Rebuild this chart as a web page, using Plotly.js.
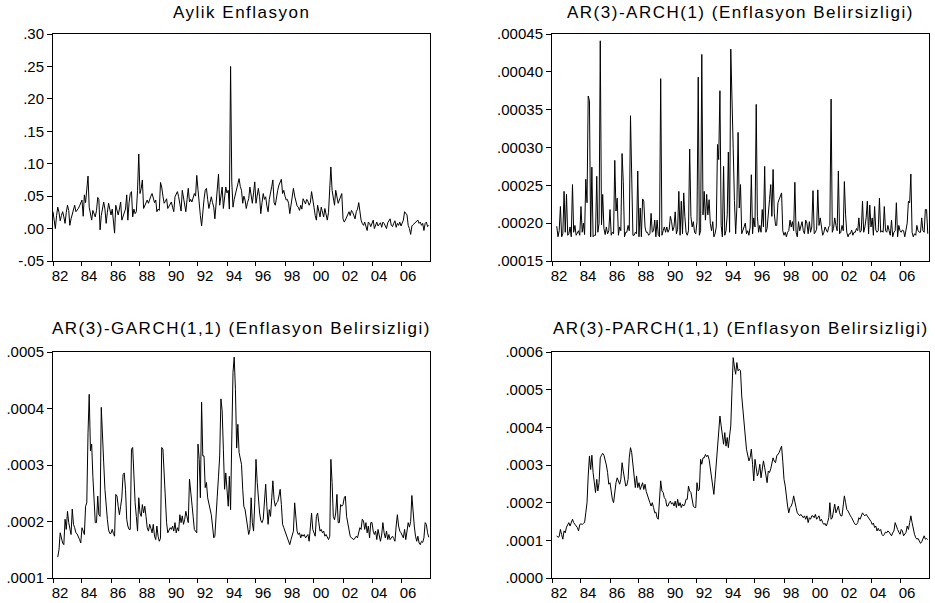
<!DOCTYPE html>
<html>
<head>
<meta charset="utf-8">
<script src="https://cdn.plot.ly/plotly-3.0.1.min.js"></script>
<style>
html,body{margin:0;padding:0;background:#fff;}
#chart{width:935px;height:603px;}
.annotation-text{letter-spacing:1.5px;}
</style>
</head>
<body>
<div id="chart"></div>
<script>
// ---------- tick labels ----------
const yearTickDates = ['1982-01-01','1984-01-01','1986-01-01','1988-01-01','1990-01-01','1992-01-01','1994-01-01',
  '1996-01-01','1998-01-01','2000-01-01','2002-01-01','2004-01-01','2006-01-01'];
const yearTickLabels = ['82','84','86','88','90','92','94','96','98','00','02','04','06'];

const inflTickVals = [-0.05,0,0.05,0.10,0.15,0.20,0.25,0.30];
const inflTickText = ['-.05','.00','.05','.10','.15','.20','.25','.30'];
const archTickVals = [0.00015,0.00020,0.00025,0.00030,0.00035,0.00040,0.00045];
const archTickText = ['.00015','.00020','.00025','.00030','.00035','.00040','.00045'];
const garchTickVals = [0.0001,0.0002,0.0003,0.0004,0.0005];
const garchTickText = ['.0001','.0002','.0003','.0004','.0005'];
const parchTickVals = [0,0.0001,0.0002,0.0003,0.0004,0.0005,0.0006];
const parchTickText = ['.0000','.0001','.0002','.0003','.0004','.0005','.0006'];

const titles = ['Aylik Enflasyon','AR(3)-ARCH(1) (Enflasyon Belirsizligi)',
  'AR(3)-GARCH(1,1) (Enflasyon Belirsizligi)','AR(3)-PARCH(1,1) (Enflasyon Belirsizligi)'];

// ---------- data ----------
// Monthly inflation, 1982M01 - 2007M12
const inflStart = [1982, 1];
const inflation = [
 .026,.015,.000,.020,.033,.025,.012,.020,.026,.018,.008,.025,
 .036,.028,.005,.015,.023,.030,.036,.026,.028,.031,.035,.040,
 .044,.019,.052,.040,.059,.081,.033,.024,.013,.028,.022,.018,
 .028,.048,.045,-.002,.020,.033,.041,.030,.008,.025,.039,.030,
 .021,.030,.013,-.007,.036,.025,.021,.030,.041,.013,.020,.023,
 .030,.052,.013,.040,.054,.057,.018,.030,.023,.026,.059,.115,
 .054,.062,.075,.031,.035,.041,.044,.039,.046,.050,.054,.046,
 .040,.044,.026,.030,.028,.071,.064,.050,.039,.042,.046,.031,
 .035,.039,.041,.033,.026,.049,.052,.057,.049,.040,.027,.059,
 .048,.041,.026,.045,.062,.041,.045,.041,.046,.054,.050,.082,
 .060,.033,.020,.004,.033,.045,.059,.062,.045,.031,.040,.049,
 .040,.033,.015,.036,.060,.084,.036,.050,.064,.031,.045,.064,
 .055,.059,.030,.250,.072,.033,.045,.054,.062,.072,.077,.065,
 .059,.039,.050,.044,.031,.040,.046,.064,.050,.039,.055,.072,
 .039,.050,.062,.049,.023,.040,.054,.045,.049,.035,.026,.045,
 .059,.065,.075,.040,.036,.050,.059,.067,.072,.076,.054,.059,
 .050,.044,.045,.039,.023,.035,.046,.062,.050,.041,.035,.033,
 .028,.036,.030,.046,.041,.038,.045,.042,.036,.040,.057,.041,
 .033,.020,.013,.036,.025,.018,.033,.025,.018,.031,.020,.013,
 .025,.070,.095,.059,.045,.036,.059,.045,.039,.044,.050,.054,
 .015,.010,.013,.018,.022,.026,.020,.028,.025,.021,.015,.026,
 .030,.040,.023,.013,.008,.005,.010,.005,-.003,.010,.008,.003,
 .008,.013,.000,.005,.010,.004,.007,.009,.002,.010,.008,.003,
 .000,.009,.012,.015,.005,.003,.008,.012,.002,.008,.005,.010,
 .004,.008,.013,.026,.024,.021,.005,.000,-.009,.004,.006,.008,
 .010,.012,.013,.008,.010,.005,.008,-.003,.008,.010,.003,.005
];

// Conditional variances, 1982M05 - 2007M12, in units of 1e-4
const VAR_UNIT = 1e-4;
const varStart = [1982, 5];
const archE4 = [
 1.96,1.82,1.90,2.22,1.82,1.86,2.42,1.88,
 2.38,1.84,1.86,1.95,1.82,2.51,1.88,1.97,1.84,1.88,1.90,1.84,
 2.22,1.88,2.00,1.85,2.58,2.27,3.68,3.62,1.82,2.74,1.82,1.84,
 1.84,2.62,1.88,2.00,4.41,1.98,2.38,1.93,1.85,1.95,1.86,1.90,
 2.18,1.84,1.88,1.86,2.83,2.16,2.33,1.84,1.95,1.90,2.92,2.55,
 1.82,1.88,1.88,1.97,1.90,3.42,2.44,1.84,1.84,1.88,1.86,2.69,
 1.82,2.20,1.82,2.32,2.29,1.95,1.88,1.88,1.84,1.86,2.13,1.88,
 1.90,2.04,1.82,2.04,1.85,1.82,3.91,1.84,1.90,1.95,1.88,1.95,
 1.88,1.92,2.09,2.02,1.90,1.95,2.15,1.86,1.92,2.42,1.84,2.29,
 1.86,2.40,2.09,1.88,1.84,1.90,2.98,2.09,1.95,2.02,1.88,1.86,
 2.02,3.93,1.84,1.90,4.23,2.11,2.42,2.04,2.38,2.11,2.31,2.00,
 1.90,2.02,1.82,1.86,1.95,3.04,2.84,3.75,1.97,1.82,2.75,1.84,
 1.90,2.11,2.94,1.88,4.30,3.35,2.99,2.30,1.86,2.20,3.20,2.20,
 2.51,1.86,1.92,1.95,2.00,1.86,1.90,1.84,1.95,2.64,1.86,2.07,
 1.95,3.57,2.09,1.88,1.97,1.88,2.18,1.95,2.75,1.88,1.93,2.18,
 2.31,2.51,2.09,2.71,2.13,1.97,1.97,2.27,2.31,2.35,2.40,1.90,
 1.84,1.88,1.82,1.88,1.90,2.04,1.95,2.02,1.90,2.54,1.88,1.82,
 2.02,1.90,1.95,2.02,1.90,1.86,2.04,2.00,1.86,2.02,1.88,1.95,
 2.43,1.86,1.88,1.92,2.44,1.97,2.07,1.95,1.84,1.88,1.95,1.91,
 1.88,1.95,1.97,3.64,1.88,1.93,2.07,1.97,1.90,2.69,1.86,1.88,
 1.97,1.90,2.55,2.11,1.88,1.82,1.86,1.86,1.91,1.84,1.88,1.88,
 1.93,1.90,2.07,1.88,1.90,2.29,1.88,1.95,2.07,2.29,1.86,2.24,
 1.95,2.07,1.84,2.22,1.91,1.88,1.90,2.33,1.88,1.90,1.88,2.22,
 1.90,1.88,1.97,1.90,1.84,2.04,1.82,1.88,1.90,2.27,1.82,1.97,
 1.90,1.88,1.91,1.90,1.82,1.91,2.00,2.29,2.27,2.65,1.88,1.82,
 1.86,1.84,1.97,1.90,1.88,1.88,2.07,1.90,1.88,2.18,2.18,1.86
];
const garchE4 = [
 1.37,1.50,1.80,1.68,1.62,1.59,2.04,1.86,
 2.18,1.98,1.87,1.77,2.22,1.95,1.89,1.80,1.78,1.74,1.68,1.62,
 1.89,1.83,1.77,2.27,2.33,3.57,4.25,3.25,3.37,2.80,2.27,1.98,
 1.98,2.45,2.12,2.09,4.02,3.34,3.04,2.57,2.24,2.04,1.85,1.79,
 1.79,1.86,1.79,1.74,2.48,2.45,2.27,2.12,2.27,2.42,2.83,2.86,
 2.57,2.04,1.92,1.86,1.86,3.28,3.31,2.75,2.33,2.09,1.83,2.42,
 2.15,2.09,2.30,2.15,2.27,2.09,1.89,1.83,1.95,1.88,1.80,1.95,
 1.74,1.68,1.92,1.74,1.65,1.70,3.31,3.28,2.75,2.27,1.98,1.80,
 1.86,1.89,1.86,1.92,1.83,1.98,1.80,1.89,1.83,2.12,1.98,2.10,
 1.95,2.04,2.18,2.09,1.98,2.75,2.57,2.33,2.09,1.86,1.83,1.80,
 3.37,3.10,2.42,4.11,3.16,3.16,2.60,2.69,2.42,2.30,2.20,2.12,
 1.92,1.71,1.74,2.21,2.45,2.80,3.16,4.17,3.96,3.28,2.57,2.86,
 2.63,2.27,2.80,2.21,3.46,4.64,4.91,4.34,3.30,3.72,3.22,3.10,
 3.01,2.57,2.27,2.21,2.09,1.92,1.77,1.86,2.42,1.98,1.83,2.33,
 3.10,2.69,2.33,2.15,2.02,1.98,2.04,2.33,2.66,2.27,1.95,2.21,
 2.09,2.42,2.72,2.39,2.27,2.33,2.35,2.45,2.57,2.30,1.95,1.89,
 1.83,1.80,1.74,1.65,1.59,1.68,1.77,1.83,2.33,2.04,1.83,1.77,
 1.80,1.71,1.77,1.74,1.77,1.71,1.74,1.77,1.65,1.98,2.15,1.86,
 1.80,1.74,2.09,2.15,1.98,1.83,1.86,1.80,1.83,1.74,1.77,1.71,
 1.68,1.74,3.10,2.69,2.09,2.03,2.15,2.48,1.98,1.98,2.30,2.27,
 2.30,2.42,2.45,2.09,1.95,1.81,1.74,1.71,1.70,1.68,1.71,1.74,
 1.71,1.80,1.89,1.86,2.04,2.01,1.86,1.98,1.80,1.92,1.71,1.98,
 1.98,1.83,1.77,1.83,1.68,1.86,1.74,1.65,1.76,1.98,1.80,1.71,
 1.83,1.68,1.77,1.68,1.71,1.74,1.70,1.65,1.92,2.12,1.92,1.83,
 1.80,1.74,1.71,1.86,1.68,1.83,1.98,1.90,2.00,2.46,2.15,1.92,
 1.74,1.65,1.74,1.62,1.59,1.65,1.63,1.71,1.98,1.95,1.80,1.72
];
const parchE4 = [
 1.12,1.08,1.10,1.29,1.15,1.03,1.25,1.20,
 1.35,1.42,1.47,1.38,1.50,1.56,1.47,1.42,1.38,1.34,1.25,1.42,
 1.44,1.42,1.45,1.47,1.73,2.00,2.71,3.24,2.88,3.26,2.80,2.53,
 2.27,2.62,2.31,2.53,3.19,3.26,3.31,3.26,3.15,3.00,2.80,2.49,
 2.53,2.22,2.09,2.00,2.35,2.53,2.66,2.58,2.49,2.62,3.06,2.84,
 2.57,2.44,2.46,2.62,3.19,3.46,3.33,2.97,2.66,2.40,2.71,2.40,
 2.53,2.35,2.44,2.53,2.35,2.49,2.30,2.18,2.09,2.00,1.91,2.00,
 1.87,1.73,1.75,1.60,1.56,2.04,2.58,2.31,2.27,2.13,2.09,1.91,
 1.91,2.00,2.04,1.96,2.00,1.91,2.04,1.87,2.09,1.91,2.00,1.87,
 1.96,1.91,1.96,2.09,2.09,2.44,2.31,2.27,2.09,1.91,1.87,1.87,
 2.53,2.31,2.35,3.15,3.02,3.19,3.19,3.28,3.22,3.26,3.15,2.93,
 2.70,2.49,2.22,2.62,3.06,3.59,4.04,4.30,4.04,3.81,3.55,3.86,
 3.50,3.73,3.46,3.77,4.04,5.01,5.85,5.60,5.41,5.72,5.50,5.54,
 5.50,4.83,4.43,4.21,3.77,3.42,3.20,3.11,3.20,3.42,3.02,2.58,
 3.15,2.88,2.71,2.80,3.02,2.66,2.88,3.11,2.93,2.66,2.53,2.84,
 2.80,2.90,3.02,3.19,3.10,3.06,3.24,3.28,3.33,3.42,3.50,3.10,
 2.62,2.44,2.13,1.91,1.73,1.87,1.91,2.00,2.18,1.96,1.87,1.73,
 1.70,1.65,1.69,1.65,1.60,1.65,1.56,1.65,1.47,1.60,1.56,1.65,
 1.65,1.60,1.69,1.56,1.60,1.65,1.51,1.56,1.47,1.42,1.45,1.38,
 1.47,1.60,2.00,1.56,1.60,1.82,1.96,1.73,1.82,1.91,1.73,1.65,
 1.65,1.91,2.18,2.00,1.82,1.78,1.69,1.65,1.60,1.51,1.47,1.42,
 1.42,1.47,1.60,1.56,1.65,1.73,1.68,1.65,1.69,1.65,1.60,1.56,
 1.50,1.42,1.46,1.34,1.38,1.25,1.32,1.25,1.29,1.16,1.12,1.16,
 1.22,1.20,1.25,1.22,1.16,1.12,1.20,1.25,1.47,1.34,1.29,1.22,
 1.16,1.29,1.25,1.12,1.16,1.21,1.38,1.29,1.47,1.65,1.47,1.29,
 1.16,1.07,1.03,1.05,0.96,0.92,0.96,1.07,1.12,1.03,1.05,1.02
];

// ---------- helpers ----------
function monthlyDates(start, n) {
  const out = [];
  let y = start[0], m = start[1];
  for (let i = 0; i < n; i++) {
    out.push(y + '-' + String(m).padStart(2, '0') + '-01');
    m++; if (m > 12) { m = 1; y++; }
  }
  return out;
}
const toUnits = arr => arr.map(v => v * VAR_UNIT);

const W = 935, H = 603;
const FONT = 'Liberation Sans, Arial, sans-serif';
const lineStyle = {color: '#000', width: 1};

const traces = [
  {x: monthlyDates(inflStart, inflation.length), y: inflation, xaxis: 'x', yaxis: 'y'},
  {x: monthlyDates(varStart, archE4.length), y: toUnits(archE4), xaxis: 'x2', yaxis: 'y2'},
  {x: monthlyDates(varStart, garchE4.length), y: toUnits(garchE4), xaxis: 'x3', yaxis: 'y3'},
  {x: monthlyDates(varStart, parchE4.length), y: toUnits(parchE4), xaxis: 'x4', yaxis: 'y4'}
].map(t => Object.assign(t, {type: 'scatter', mode: 'lines', line: lineStyle, hoverinfo: 'x+y'}));

// plot areas in pixels [left, right, top, bottom]
const boxes = [[53, 430, 34, 261], [552, 929, 34, 261], [53, 430, 352, 578], [552, 929, 352, 578]];
const yRanges = [[-0.05, 0.30], [0.00015, 0.00045], [0.0001, 0.0005], [0, 0.0006]];
const yTickVals = [inflTickVals, archTickVals, garchTickVals, parchTickVals];
const yTickText = [inflTickText, archTickText, garchTickText, parchTickText];
const titleY = [12, 12, 328, 328];

const layout = {
  width: W, height: H,
  margin: {l: 0, r: 0, t: 0, b: 0},
  paper_bgcolor: '#fff', plot_bgcolor: '#fff',
  showlegend: false,
  font: {family: FONT, color: '#000'},
  annotations: []
};

boxes.forEach((b, i) => {
  const n = i === 0 ? '' : String(i + 1);
  const xa = {
    domain: [b[0] / W, b[1] / W], anchor: 'y' + n,
    type: 'date', range: ['1982-01-01', '2008-01-01'],
    tickmode: 'array', tickvals: yearTickDates, ticktext: yearTickLabels,
    ticks: 'outside', ticklen: 4, tickwidth: 1, tickcolor: '#000',
    ticklabelshift: 7, ticklabelstandoff: -3,
    tickfont: {family: FONT, size: 15, color: '#000'},
    showline: true, mirror: true, linecolor: '#000', linewidth: 1,
    showgrid: false, zeroline: false, fixedrange: true
  };
  const ya = {
    domain: [(H - b[3]) / H, (H - b[2]) / H], anchor: 'x' + n,
    range: yRanges[i],
    tickmode: 'array', tickvals: yTickVals[i], ticktext: yTickText[i],
    ticks: 'outside', ticklen: 5, tickwidth: 1, tickcolor: '#000',
    tickfont: {family: FONT, size: 15, color: '#000'},
    showline: true, mirror: true, linecolor: '#000', linewidth: 1,
    showgrid: false, zeroline: false, fixedrange: true
  };
  layout['xaxis' + n] = xa;
  layout['yaxis' + n] = ya;
  layout.annotations.push({
    text: titles[i], showarrow: false,
    xref: 'paper', yref: 'paper',
    x: (b[0] + b[1]) / 2 / W, y: (H - titleY[i]) / H,
    xanchor: 'center', yanchor: 'middle',
    font: {family: FONT, size: 17, color: '#000'}
  });
});

Plotly.newPlot('chart', traces, layout, {displayModeBar: false, staticPlot: true});
</script>
</body>
</html>
